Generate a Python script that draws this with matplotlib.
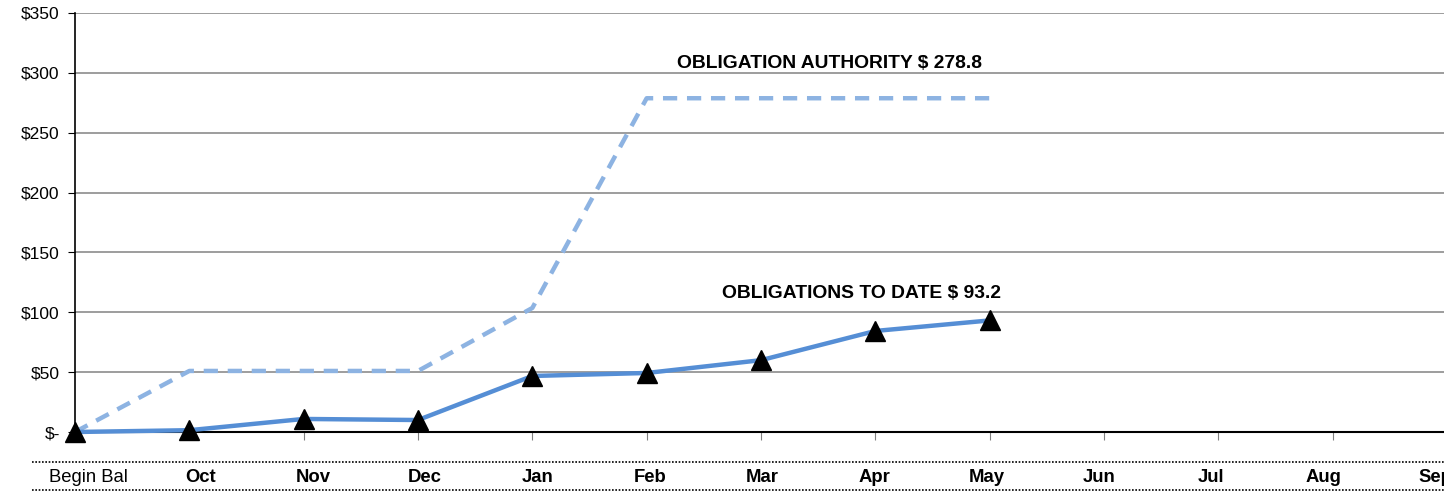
import matplotlib
matplotlib.use("Agg")
import matplotlib.pyplot as plt

categories = ["Begin Bal", "Oct", "Nov", "Dec", "Jan", "Feb", "Mar", "Apr", "May", "Jun", "Jul", "Aug", "Sep"]
obligations = [0, 1.5, 10.9, 10.0, 46.8, 49.3, 60.0, 84.4, 93.2]
authority = [0, 51, 51, 51, 103.6, 278.8, 278.8, 278.8, 278.8]
y_ticks = [0, 50, 100, 150, 200, 250, 300, 350]
y_labels = ["$-", "$50", "$100", "$150", "$200", "$250", "$300", "$350"]

plt.rcParams['font.family'] = ['Liberation Sans', 'DejaVu Sans']

W, H = 1444, 491
fig = plt.figure(figsize=(W/100, H/100), dpi=100)
left_px, right_px, top_px, bot_px = 75, 1447, 13, 432
ax = fig.add_axes([left_px/W, 1-bot_px/H, (right_px-left_px)/W, (bot_px-top_px)/H])

x_obl = list(range(len(obligations)))
x_auth = list(range(len(authority)))
ax.plot(x_auth, authority, color="#8DB3E2", lw=3.2, ls=(0, (3.2, 2.2)), zorder=3, clip_on=False)
ax.plot(x_obl, obligations, color="#558ED5", lw=3.2, zorder=4, clip_on=False,
        marker="^", markersize=15, markerfacecolor="black", markeredgecolor="black")

ax.set_xlim(0, len(categories)-1)
ax.set_ylim(0, 350)
ax.set_yticks(y_ticks)
ax.set_yticklabels(y_labels, fontsize=12.5)
ax.set_xticks(range(len(categories)))
ax.set_xticklabels([])
ax.tick_params(axis="x", length=6, color="#808080")
ax.tick_params(axis="y", length=5, color="black", pad=6)

ax.grid(axis="y", color="#8c8c8c", lw=1.2)
ax.set_axisbelow(True)
for s in ["top", "right"]:
    ax.spines[s].set_visible(False)
ax.spines["left"].set_color("black")
ax.spines["left"].set_linewidth(1.2)
ax.spines["bottom"].set_color("black")
ax.spines["bottom"].set_linewidth(1.5)

ax.text(6.60, 308, "OBLIGATION AUTHORITY $ 278.8", ha="center", va="center",
        fontsize=13.9, fontweight="bold")
ax.text(6.875, 115.5, "OBLIGATIONS TO DATE $ 93.2", ha="center", va="center",
        fontsize=13.9, fontweight="bold")

# Category label table row (data-table style)
t_left, t_right, t_top, t_bot = 32, 1492, 462, 490
tax = fig.add_axes([t_left/W, 1-t_bot/H, (t_right-t_left)/W, (t_bot-t_top)/H])
tax.set_xlim(-0.5, len(categories)-0.5)
tax.set_ylim(0, 1)
tax.set_xticks([])
tax.set_yticks([])
tax.patch.set_visible(False)
for s in ["left", "right", "top", "bottom"]:
    tax.spines[s].set_visible(False)
for yy in [0, 1]:
    tax.plot([-0.5, len(categories)-0.5], [yy, yy], color="black", lw=1.2,
             ls=(0, (1.0, 1.0)), clip_on=False)
for i, c in enumerate(categories):
    tax.text(i, 0.45, c, ha="center", va="center", fontsize=13.3,
             fontweight="normal" if i == 0 else "bold", clip_on=False)

fig.savefig("out.png", dpi=100)
